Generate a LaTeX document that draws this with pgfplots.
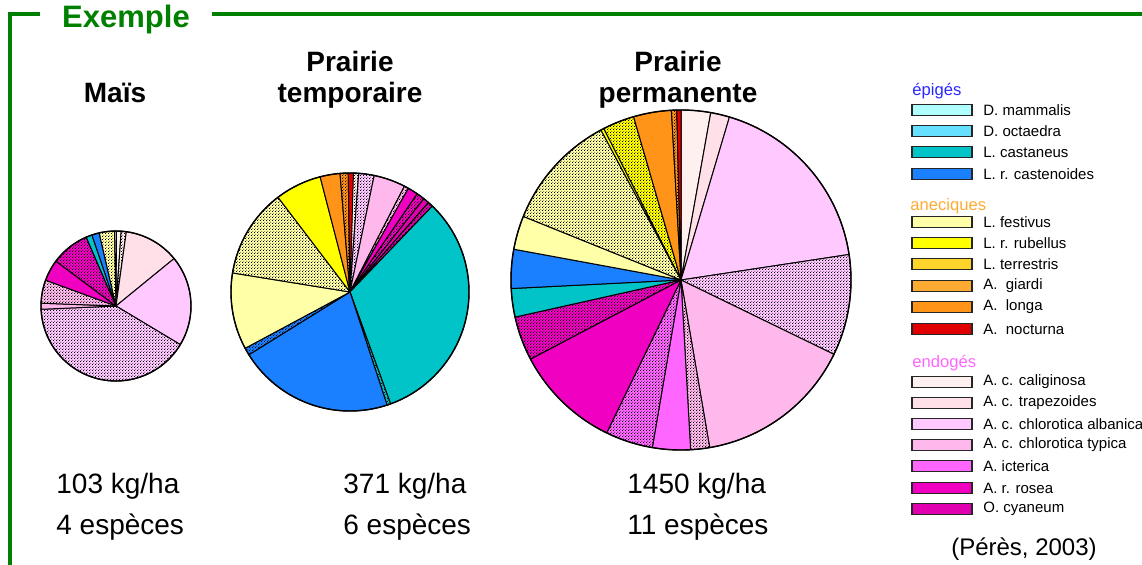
\documentclass[border=0pt]{standalone}
\usepackage{pgfplots}
\pgfplotsset{compat=1.18}
\usepackage{fontspec}
\setmainfont{Liberation Sans}
\usetikzlibrary{patterns.meta}

\definecolor{cMam}{HTML}{B0FFFF}
\definecolor{cOct}{HTML}{66E0FF}
\definecolor{cCas}{HTML}{00C4C8}
\definecolor{cCst}{HTML}{1A80FF}
\definecolor{cFes}{HTML}{FFFFA8}
\definecolor{cRub}{HTML}{FFFF00}
\definecolor{cTer}{HTML}{FFD42A}
\definecolor{cGia}{HTML}{FFAA33}
\definecolor{cLon}{HTML}{FF9418}
\definecolor{cNoc}{HTML}{E00000}
\definecolor{cCal}{HTML}{FFF0F0}
\definecolor{cTra}{HTML}{FFE0E8}
\definecolor{cAlb}{HTML}{FFC8FF}
\definecolor{cTyp}{HTML}{FFB8EC}
\definecolor{cIct}{HTML}{FF66FF}
\definecolor{cRos}{HTML}{F000C0}
\definecolor{cCya}{HTML}{E000B0}
\definecolor{cGreen}{HTML}{008000}
\definecolor{hEpi}{HTML}{2828FF}
\definecolor{hAne}{HTML}{FFAA33}
\definecolor{hEnd}{HTML}{FF66FF}

\tikzdeclarepattern{
  name=fdots,
  type=uncolored,
  bottom left={(0pt,0pt)},
  top right={(1.6pt,1.6pt)},
  tile size={(1.6pt,1.6pt)},
  code={
    \pgfpathrectangle{\pgfqpoint{0pt}{0pt}}{\pgfqpoint{0.5pt}{0.5pt}}
    \pgfpathrectangle{\pgfqpoint{0.8pt}{0.8pt}}{\pgfqpoint{0.5pt}{0.5pt}}
    \pgfusepath{fill}
  }
}

% #1 cx, #2 cy, #3 radius (axis units, 1 unit = 0.5pt), #4 start angle,
% #5 list: percentage/colour/dotted
\newcommand\pie[5]{%
  \xdef\pieang{#4}%
  \foreach \v/\c/\d in {#5}{%
    \pgfmathsetmacro\pienext{\pieang-3.6*\v}%
    \fill[\c] (axis cs:#1,#2) -- ++(\pieang:#3*0.5pt)
      arc[start angle=\pieang, end angle=\pienext, radius=#3*0.5pt] -- cycle;
    \ifnum\d=1
      \fill[pattern=fdots, pattern color=black] (axis cs:#1,#2) -- ++(\pieang:#3*0.5pt)
        arc[start angle=\pieang, end angle=\pienext, radius=#3*0.5pt] -- cycle;
    \fi
    \draw[black, line width=0.5pt, line join=round] (axis cs:#1,#2) -- ++(\pieang:#3*0.5pt)
      arc[start angle=\pieang, end angle=\pienext, radius=#3*0.5pt] -- cycle;
    \xdef\pieang{\pienext}%
  }%
  \draw[black, line width=0.7pt] (axis cs:#1,#2) circle[radius=#3*0.5pt];
}

\newcommand\titlefont{\bfseries\fontsize{14}{15.5}\selectfont}
\newcommand\bigfont{\fontsize{14}{16}\selectfont}
\newcommand\legfont{\fontsize{7.5}{9}\selectfont}
\newcommand\headfont{\fontsize{8.3}{10}\selectfont}

\begin{document}
\begin{tikzpicture}
\begin{axis}[
  x=0.5pt, y=0.5pt,
  xmin=0, xmax=1142, ymin=0, ymax=564,
  hide axis, clip=false,
]
\coordinate (BL) at (axis cs:0,0);
\coordinate (TR) at (axis cs:1142,564);
\pgfplotsextra{%
  % Maïs
  \pie{116}{258}{75}{90}{1.1/cCal/0, 1.1/cCal/1, 11.9/cTra/0, 19.5/cAlb/0, 40.7/cAlb/1,
    1.3/cTyp/0, 5.0/cTyp/1, 4.6/cRos/0, 8.3/cRos/1, 1.3/cCas/0, 1.6/cCst/0, 3.3/cFes/1, 0.4/cCal/0}
  % Prairie temporaire
  \pie{350}{272}{119}{88.7}{0.8/cCal/1, 2.1/cAlb/1, 4.3/cTyp/0, 0.6/cTyp/1, 1.4/cRos/0,
    1.1/cRos/1, 0.8/cCya/0, 0.7/cCya/1, 32.3/cCas/0, 0.5/cCas/1, 21.2/cCst/0, 1.0/cCst/1,
    10.4/cFes/0, 12.1/cFes/1, 6.3/cRub/0, 2.7/cLon/0, 1.1/cLon/1, 0.7/cNoc/0}
  % Prairie permanente
  \pie{681}{284}{170}{90}{2.8/cCal/0, 1.8/cTra/0, 18.0/cAlb/0, 9.6/cAlb/1, 15.1/cTyp/0,
    1.8/cTyp/1, 3.6/cIct/0, 4.5/cIct/1, 10.1/cRos/0, 4.2/cRos/1, 2.7/cCas/0, 3.7/cCst/0,
    3.2/cFes/0, 11.1/cFes/1, 0.3/cRub/0, 3.0/cRub/1, 3.6/cLon/0, 0.5/cLon/1, 0.4/cNoc/0}
  % legend
  \foreach \y/\c/\t in {454/cMam/{D. mammalis}, 433/cOct/{D. octaedra}, 412/cCas/{L. castaneus},
      390/cCst/{L. r. castenoides}, 342/cFes/{L. festivus}, 321/cRub/{L. r. rubellus},
      300/cTer/{L. terrestris}, 278/cGia/{A.\ \ giardi}, 257/cLon/{A.\ \ longa}, 235/cNoc/{A.\ \ nocturna},
      182/cCal/{A. c. caliginosa}, 161/cTra/{A. c. trapezoides}, 140/cAlb/{A. c. chlorotica albanica},
      119/cTyp/{A. c. chlorotica typica}, 98/cIct/{A. icterica}, 76/cRos/{A. r. rosea}, 55/cCya/{O. cyaneum}}{%
    \filldraw[fill=\c, draw=black!85, line width=0.75pt] (axis cs:912,\y) ++(0,-2.8pt) rectangle ++(30pt,5.6pt);
    \node[anchor=west, font=\legfont, inner sep=0pt] at (axis cs:983,\y) {\t};
  }
}
\node[anchor=base west, font=\headfont, text=hEpi, inner sep=0pt] at (axis cs:912,469) {épigés};
\node[anchor=base west, font=\headfont, text=hAne, inner sep=0pt] at (axis cs:910,354) {aneciques};
\node[anchor=base west, font=\headfont, text=hEnd, inner sep=0pt] at (axis cs:912,197) {endogés};
% titles
\node[anchor=base, font=\titlefont, inner sep=0pt] at (axis cs:115,462) {Maïs};
\node[anchor=base, font=\titlefont, inner sep=0pt] at (axis cs:350,493) {Prairie};
\node[anchor=base, font=\titlefont, inner sep=0pt] at (axis cs:350,462) {temporaire};
\node[anchor=base, font=\titlefont, inner sep=0pt] at (axis cs:678,493) {Prairie};
\node[anchor=base, font=\titlefont, inner sep=0pt] at (axis cs:678,462) {permanente};
% biomass and species
\node[anchor=base west, font=\bigfont, inner sep=0pt] at (axis cs:56,71) {103 kg/ha};
\node[anchor=base west, font=\bigfont, inner sep=0pt] at (axis cs:56,30) {4 espèces};
\node[anchor=base west, font=\bigfont, inner sep=0pt] at (axis cs:343,71) {371 kg/ha};
\node[anchor=base west, font=\bigfont, inner sep=0pt] at (axis cs:343,30) {6 espèces};
\node[anchor=base west, font=\bigfont, inner sep=0pt] at (axis cs:627,71) {1450 kg/ha};
\node[anchor=base west, font=\bigfont, inner sep=0pt] at (axis cs:627,30) {11 espèces};
\node[anchor=base, font=\fontsize{12}{14}\selectfont, inner sep=0pt] at (axis cs:1024,9) {(Pérès, 2003)};
% frame
\draw[cGreen, line width=1.7pt] (axis cs:40,550) -- (axis cs:10,550) -- (axis cs:10,-10);
\draw[cGreen, line width=1.7pt] (axis cs:212,550) -- (axis cs:1160,550);
\node[anchor=base, font=\bfseries\fontsize{15.5}{18}\selectfont, text=cGreen, inner sep=0pt] at (axis cs:126,537) {Exemple};
\end{axis}
\pgfresetboundingbox
\useasboundingbox (BL) rectangle (TR);
\end{tikzpicture}
\end{document}
